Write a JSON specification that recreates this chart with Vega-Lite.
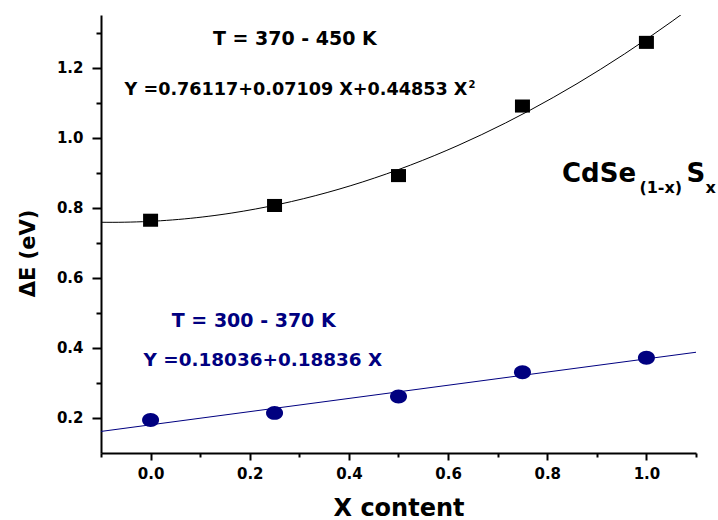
{
  "$schema": "https://vega.github.io/schema/vega-lite/v6.json",
  "width": 595,
  "height": 438,
  "autosize": {"type": "none"},
  "padding": {"left": 101, "top": 15, "right": 22, "bottom": 67},
  "background": "white",
  "config": {
    "view": {"stroke": null},
    "font": "DejaVu Sans",
    "text": {"font": "DejaVu Sans", "fontWeight": "bold"}
  },
  "datasets": {
    "gap": [
      {"x": 0.0, "dE": 0.7643, "range": "370 - 450 K"},
      {"x": 0.25, "dE": 0.8064, "range": "370 - 450 K"},
      {"x": 0.5, "dE": 0.8917, "range": "370 - 450 K"},
      {"x": 0.75, "dE": 1.0902, "range": "370 - 450 K"},
      {"x": 1.0, "dE": 1.2719, "range": "370 - 450 K"},
      {"x": 0.0, "dE": 0.1944, "range": "300 - 370 K"},
      {"x": 0.25, "dE": 0.2145, "range": "300 - 370 K"},
      {"x": 0.5, "dE": 0.2615, "range": "300 - 370 K"},
      {"x": 0.75, "dE": 0.3306, "range": "300 - 370 K"},
      {"x": 1.0, "dE": 0.3717, "range": "300 - 370 K"}
    ]
  },
  "encoding": {
    "x": {
      "field": "x",
      "type": "quantitative",
      "scale": {"domain": [-0.1, 1.1], "nice": false, "zero": false},
      "axis": {
        "title": "X content",
        "grid": false,
        "values": [-0.1, 0, 0.1, 0.2, 0.3, 0.4, 0.5, 0.6, 0.7, 0.8, 0.9, 1.0, 1.1],
        "labelExpr": "abs(round(datum.value * 10)) % 2 == 0 ? format(datum.value, '.1f') : ''",
        "tickSize": {"condition": {"test": "abs(round(datum.value * 10)) % 2 == 0", "value": 7}, "value": 4},
        "tickWidth": 2,
        "tickColor": "black",
        "domainWidth": 2,
        "domainColor": "black",
        "labelFont": "DejaVu Sans",
        "labelFontWeight": "bold",
        "labelFontSize": 15,
        "labelColor": "black",
        "labelPadding": 6,
        "labelFlush": false,
        "labelOverlap": false,
        "titleFont": "DejaVu Sans",
        "titleFontWeight": "bold",
        "titleFontSize": 24,
        "titleColor": "black",
        "titleBaseline": "alphabetic",
        "titleY": 62
      }
    },
    "y": {
      "field": "dE",
      "type": "quantitative",
      "scale": {"domain": [0.1, 1.35], "nice": false, "zero": false},
      "axis": {
        "title": "ΔE (eV)",
        "grid": false,
        "values": [0.2, 0.3, 0.4, 0.5, 0.6, 0.7, 0.8, 0.9, 1.0, 1.1, 1.2, 1.3],
        "labelExpr": "abs(round(datum.value * 10)) % 2 == 0 ? format(datum.value, '.1f') : ''",
        "tickSize": {"condition": {"test": "abs(round(datum.value * 10)) % 2 == 0", "value": 9}, "value": 5},
        "tickWidth": 2,
        "tickColor": "black",
        "domainWidth": 2,
        "domainColor": "black",
        "labelFont": "DejaVu Sans",
        "labelFontWeight": "bold",
        "labelFontSize": 15,
        "labelColor": "black",
        "labelPadding": 9,
        "labelFlush": false,
        "labelOverlap": false,
        "titleFont": "DejaVu Sans",
        "titleFontWeight": "bold",
        "titleFontSize": 21,
        "titleColor": "black",
        "titlePadding": 18,
        "titleY": 238
      }
    }
  },
  "layer": [
    {
      "data": {"name": "gap"},
      "transform": [
        {"filter": "datum.range == '370 - 450 K'"},
        {"regression": "dE", "on": "x", "method": "poly", "order": 2, "extent": [-0.1, 1.1]}
      ],
      "mark": {"type": "line", "color": "black", "strokeWidth": 1, "clip": true}
    },
    {
      "data": {"name": "gap"},
      "transform": [
        {"filter": "datum.range == '300 - 370 K'"},
        {"regression": "dE", "on": "x", "method": "linear", "extent": [-0.1, 1.1]}
      ],
      "mark": {"type": "line", "color": "#000080", "strokeWidth": 1, "clip": true}
    },
    {
      "data": {"name": "gap"},
      "transform": [{"filter": "datum.range == '370 - 450 K'"}],
      "mark": {"type": "point", "filled": true, "opacity": 1, "color": "black", "shape": "M-1,-0.87H1V0.87H-1Z", "size": 225}
    },
    {
      "data": {"name": "gap"},
      "transform": [{"filter": "datum.range == '300 - 370 K'"}],
      "mark": {"type": "point", "filled": true, "opacity": 1, "color": "#000080", "shape": "M-1,0A1,0.82,0,1,1,1,0A1,0.82,0,1,1,-1,0Z", "size": 289}
    },
    {
      "data": {"values": [{"x": 0.291, "dE": 1.265, "label": "T = 370 - 450 K"}]},
      "mark": {"type": "text", "align": "center", "baseline": "alphabetic", "fontSize": 19, "color": "black"},
      "encoding": {"text": {"field": "label"}}
    },
    {
      "data": {"values": [{"x": -0.0525, "dE": 1.122, "label": "Y =0.76117+0.07109 X+0.44853 X"}]},
      "mark": {"type": "text", "align": "left", "baseline": "alphabetic", "fontSize": 17.6, "color": "black"},
      "encoding": {"text": {"field": "label"}}
    },
    {
      "data": {"values": [{"x": 0.641, "dE": 1.142, "label": "2"}]},
      "mark": {"type": "text", "align": "left", "baseline": "alphabetic", "fontSize": 10, "color": "black"},
      "encoding": {"text": {"field": "label"}}
    },
    {
      "data": {"values": [{"x": 0.208, "dE": 0.4598, "label": "T = 300 - 370 K"}]},
      "mark": {"type": "text", "align": "center", "baseline": "alphabetic", "fontSize": 19, "color": "#000080"},
      "encoding": {"text": {"field": "label"}}
    },
    {
      "data": {"values": [{"x": -0.0141, "dE": 0.349, "label": "Y =0.18036+0.18836 X"}]},
      "mark": {"type": "text", "align": "left", "baseline": "alphabetic", "fontSize": 18.4, "color": "#000080"},
      "encoding": {"text": {"field": "label"}}
    },
    {
      "data": {"values": [{"x": 0.8297, "dE": 0.873, "label": "CdSe"}, {"x": 1.0808, "dE": 0.873, "label": "S"}]},
      "mark": {"type": "text", "align": "left", "baseline": "alphabetic", "fontSize": 26, "color": "black"},
      "encoding": {"text": {"field": "label"}}
    },
    {
      "data": {"values": [{"x": 0.9859, "dE": 0.843, "label": "(1-x)"}, {"x": 1.1192, "dE": 0.843, "label": "x"}]},
      "mark": {"type": "text", "align": "left", "baseline": "alphabetic", "fontSize": 16, "color": "black"},
      "encoding": {"text": {"field": "label"}}
    }
  ]
}
